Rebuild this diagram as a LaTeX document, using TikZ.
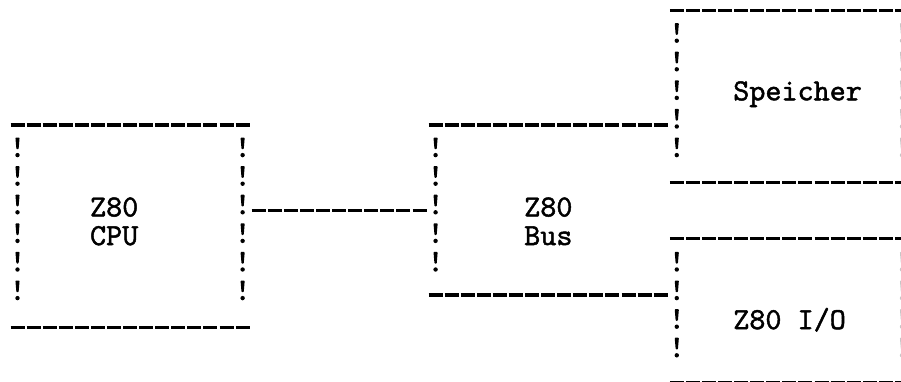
\documentclass[tikz,border=0pt]{standalone}
\usepackage{fontspec}
\newfontfamily\lblfont{lmmono10-regular.otf}[FakeBold=1.5]
\begin{document}
\begin{tikzpicture}[x=1pt,y=-1pt,
  declare function={cx(\x)=17.5+16.08*\x; by(\x)=14.5+28.6*\x;},
  dashrow/.style={line width=3.2pt, dash pattern=on 14pt off 2.08pt},
  lbl/.style={font=\lblfont\fontsize{30.63}{28.6}\selectfont, inner sep=0pt, text=black},
  bang/.pic={
    \fill[rounded corners=0.8pt] (-2.1,-20) -- (2.1,-20) -- (1.1,-8.3) -- (-1.1,-8.3) -- cycle;
    \fill (0,-2.4) circle (2.2);
  },
  faintbang/.style={gray!45}]
\path[use as bounding box] (0,0) rectangle (901,381);
\clip (0,0) rectangle (901,381);

% ---------- box corner coordinates (dash rows) ----------
% CPU box: columns 0..14, rows 4..11
\coordinate (cpuTL) at ({cx(0)-7},{by(4)-4});
\coordinate (cpuTR) at ({cx(14)+7},{by(4)-4});
\coordinate (cpuBL) at ({cx(0)-7},{by(11)-1.5});
\coordinate (cpuBR) at ({cx(14)+7},{by(11)-1.5});
% Bus box: columns 26..40, rows 4..10
\coordinate (busTL) at ({cx(26)-7},{by(4)-4});
\coordinate (busTR) at ({cx(40)+7},{by(4)-4});
\coordinate (busBL) at ({cx(26)-7},{by(10)-5.5});
\coordinate (busBR) at ({cx(40)+7},{by(10)-5.5});
% Speicher box: columns 41..55, rows 0..6
\coordinate (memTL) at ({cx(41)-7},{by(0)-4});
\coordinate (memTR) at ({cx(55)+7},{by(0)-4});
\coordinate (memBL) at ({cx(41)-7},{by(6)-4});
\coordinate (memBR) at ({cx(55)+7},{by(6)-4});
% I/O box: columns 41..55, rows 8..13
\coordinate (ioTL) at ({cx(41)-7},{by(8)-5});
\coordinate (ioTR) at ({cx(55)+7},{by(8)-5});
\coordinate (ioBL) at ({cx(41)-7},{by(13)-4});
\coordinate (ioBR) at ({cx(55)+7},{by(13)-4});
% connector CPU -> Bus (row 7, columns 15..25)
\coordinate (conA) at ({cx(15)-7},{by(7)-4});
\coordinate (conB) at ({cx(25)+7},{by(7)-4});

% ---------- horizontal dash rows ----------
\draw[dashrow] (cpuTL) -- (cpuTR);
\draw[dashrow] (cpuBL) -- (cpuBR);
\draw[dashrow] (busTL) -- (busTR);
\draw[dashrow] (busBL) -- (busBR);
\draw[dashrow] (memTL) -- (memTR);
\draw[dashrow] (memBL) -- (memBR);
\draw[dashrow] (ioTL) -- (ioTR);
\draw[dashrow] (ioBL) -- (ioBR);
\draw[dashrow] (conA) -- (conB);

% ---------- vertical "!" columns ----------
\foreach \r in {5,...,10} {
  \pic at ({cx(0)},{by(\r)}) {bang};
  \pic at ({cx(14)},{by(\r)}) {bang};
}
\foreach \r in {5,...,9} {
  \pic at ({cx(26)},{by(\r)}) {bang};
}
\foreach \r in {1,...,5} {
  \pic at ({cx(41)},{by(\r)}) {bang};
  \pic[faintbang] at (902,{by(\r)}) {bang};
}
\foreach \r in {9,...,12} {
  \pic at ({cx(41)},{by(\r)}) {bang};
  \pic[faintbang] at (902,{by(\r)}) {bang};
}

% ---------- labels ----------
\node[lbl, align=left, anchor=north west] (cpu) at ({cx(5)-8.04},{by(7)-17.5}) {Z80\\CPU};
\node[lbl, align=left, anchor=north west] (bus) at ({cx(32)-8.04},{by(7)-17.5}) {Z80\\Bus};
\node[lbl, anchor=base west] (mem) at ({cx(45)-8.04},{by(3)}) {Speicher};
\node[lbl, anchor=base west] (io) at ({cx(45)-8.04},{by(11)}) {Z80 I/O};
\end{tikzpicture}
\end{document}
